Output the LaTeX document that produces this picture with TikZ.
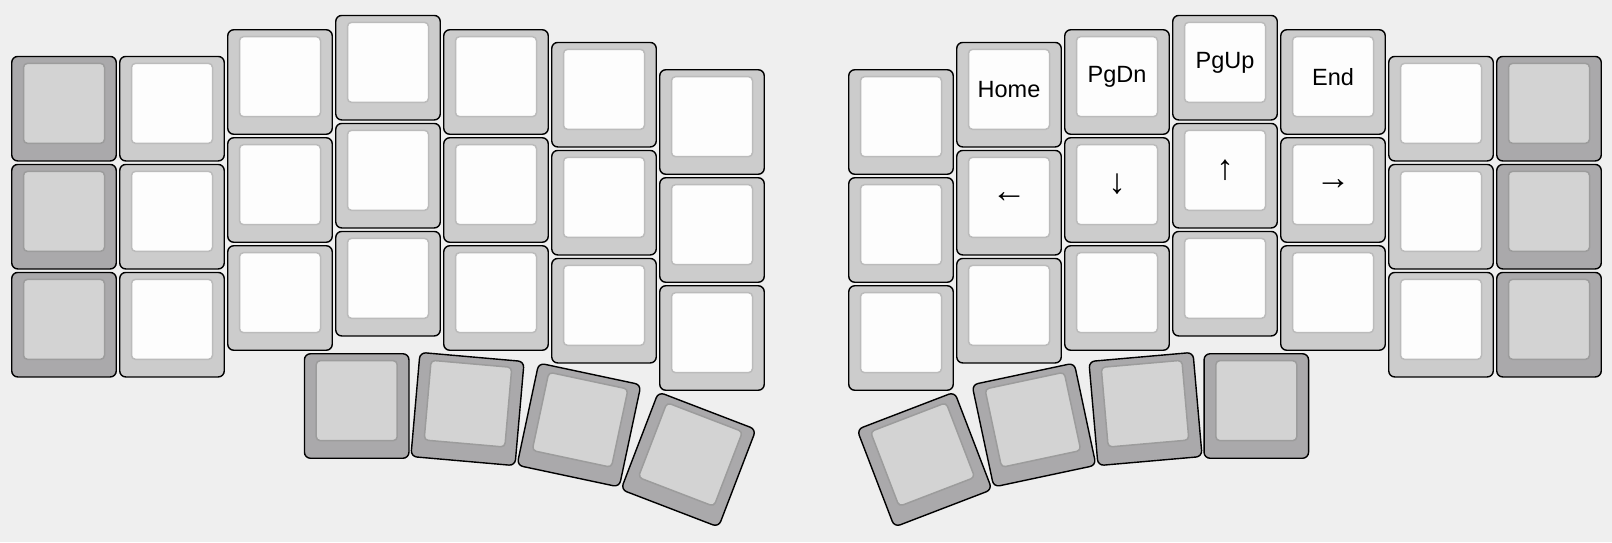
\documentclass[tikz,border=0pt]{standalone}
\usepackage{fontspec}
\setmainfont{Liberation Sans}

\definecolor{bgcol}{HTML}{EFEFEF}
\definecolor{lightrim}{HTML}{CCCCCC}
\definecolor{lightface}{HTML}{FDFDFD}
\definecolor{lightedge}{HTML}{BBBBBB}
\definecolor{darkrim}{HTML}{AAA9AB}
\definecolor{darkface}{HTML}{D3D3D3}
\definecolor{darkedge}{HTML}{9C9C9C}

% one key: name, x, y, rotation, kind
\newcommand{\keycap}[5]{%
  \begin{scope}[shift={(#2,#3)}, rotate=#4, transform shape]
    \node [#5 cap] (#1) at (0,0) {};
    \node [#5 top] (#1-top) at (0,-5.35) {};
  \end{scope}}

\begin{document}
\begin{tikzpicture}
 [ x=1pt
 , y=-1pt
 , cap base/.style={draw=black, line width=1.4pt, rounded corners=6pt, inner sep=0, minimum width=104.5pt, minimum height=104.5pt}
 , top base/.style={line width=1.5pt, rounded corners=4pt, inner sep=0, minimum width=81pt, minimum height=80pt}
 , light cap/.style={cap base, fill=lightrim}
 , light top/.style={top base, draw=lightedge, fill=lightface}
 , dark cap/.style={cap base, fill=darkrim}
 , dark top/.style={top base, draw=darkedge, fill=darkface}
 , legend/.style={font=\fontsize{23.5}{28}\selectfont, text=black, inner sep=0}
 , arrow legend/.style={legend, font=\fontsize{35}{40}\selectfont}
 ]
  \path [fill=bgcol, use as bounding box] (0,0) rectangle (1612,542);

  % left half
  \foreach \col/\ytop in {0/108.7, 1/108.7, 2/82, 3/67.7, 4/82, 5/94.7, 6/122}
    \foreach \row in {0,1,2}
    {
      \pgfmathsetmacro\kx{64+108*\col}
      \pgfmathsetmacro\ky{\ytop+108*\row}
      \ifnum\col=0
        \keycap{L\row\col}{\kx}{\ky}{0}{dark}
      \else
        \keycap{L\row\col}{\kx}{\ky}{0}{light}
      \fi
    }

  % right half
  \foreach \col/\ytop in {0/122, 1/94.7, 2/82, 3/67.7, 4/82, 5/108.7, 6/108.7}
    \foreach \row in {0,1,2}
    {
      \pgfmathsetmacro\kx{901+108*\col}
      \pgfmathsetmacro\ky{\ytop+108*\row}
      \ifnum\col=6
        \keycap{R\row\col}{\kx}{\ky}{0}{dark}
      \else
        \keycap{R\row\col}{\kx}{\ky}{0}{light}
      \fi
    }

  % thumb clusters
  \keycap{LT1}{356.7}{406}{0}{dark}
  \keycap{LT2}{467.5}{409}{-5}{dark}
  \keycap{LT3}{579}{425}{-12}{dark}
  \keycap{LT4}{688.5}{459.5}{-21}{dark}
  \keycap{RT1}{1256.3}{406}{0}{dark}
  \keycap{RT2}{1145.5}{409}{5}{dark}
  \keycap{RT3}{1034}{425}{12}{dark}
  \keycap{RT4}{924.5}{459.5}{21}{dark}

  % legends
  \node [legend] at (R01-top) {Home};
  \node [legend] at (R02-top) {PgDn};
  \node [legend] at (R03-top) {PgUp};
  \node [legend] at (R04-top) {End};
  \node [arrow legend] at (R11-top) {←};
  \node [arrow legend] at (R12-top) {↓};
  \node [arrow legend] at (R13-top) {↑};
  \node [arrow legend] at (R14-top) {→};
\end{tikzpicture}
\end{document}
